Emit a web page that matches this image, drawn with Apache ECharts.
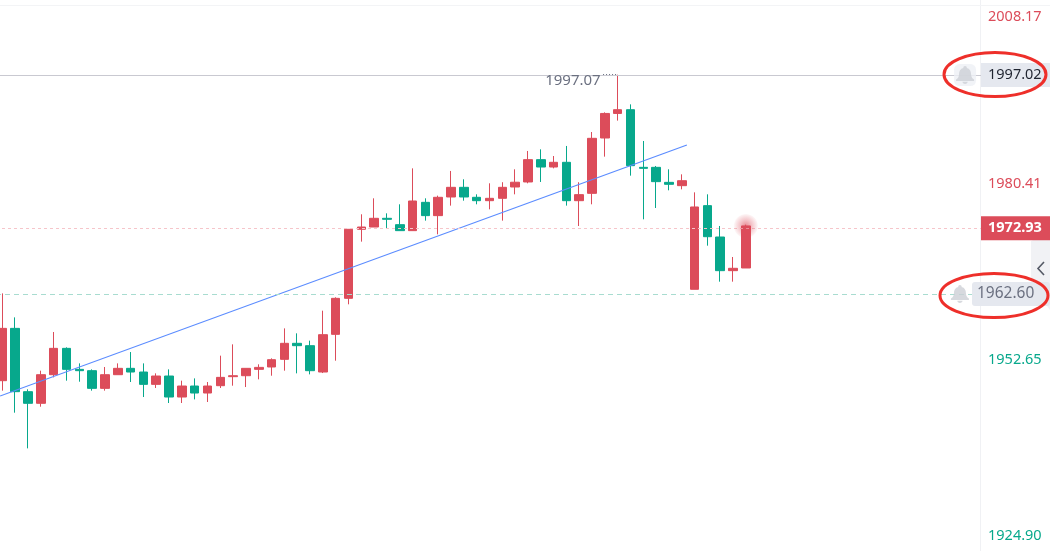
<!DOCTYPE html>
<html>
<head>
<meta charset="utf-8">
<script src="https://cdn.jsdelivr.net/npm/echarts@6/dist/echarts.min.js"></script>
<style>html,body{margin:0;padding:0;background:#fff}#c{width:1050px;height:551px}</style>
</head>
<body>
<div id="c"></div>
<script>
const opens  = [1948.98,1957.20,1947.25,1945.42,1949.92,1954.06,1950.76,1950.55,1947.77,1949.92,1950.92,1950.34,1948.40,1949.71,1946.41,1948.14,1947.04,1948.19,1949.61,1949.76,1950.76,1951.13,1952.33,1954.85,1954.48,1950.34,1956.26,1961.92,1972.77,1973.13,1974.50,1973.50,1972.56,1977.01,1974.92,1977.85,1979.37,1977.80,1977.27,1977.64,1979.42,1980.21,1983.72,1982.56,1983.30,1977.27,1978.42,1987.12,1990.98,1991.57,1982.51,1982.51,1980.15,1979.63,1963.34,1976.49,1971.56,1966.27,1966.69];
const closes = [1957.20,1947.25,1945.42,1949.92,1954.06,1950.76,1950.55,1947.77,1949.92,1950.92,1950.34,1948.40,1949.71,1946.41,1948.14,1947.04,1948.14,1949.50,1949.76,1950.92,1951.07,1952.28,1954.85,1954.48,1950.55,1956.21,1961.92,1972.77,1973.13,1974.50,1974.34,1972.56,1977.22,1974.92,1977.80,1979.37,1977.85,1977.27,1977.64,1979.37,1980.17,1983.72,1982.56,1983.30,1977.27,1978.22,1987.07,1990.98,1991.57,1982.77,1982.35,1980.26,1979.84,1980.41,1976.28,1971.61,1966.27,1966.64,1973.30];
const lows   = [1947.41,1943.95,1938.34,1944.89,1949.50,1948.98,1948.82,1947.41,1947.41,1949.92,1948.77,1946.41,1947.83,1945.47,1945.47,1946.04,1945.63,1947.83,1948.19,1947.98,1949.19,1949.76,1950.55,1950.13,1949.97,1950.18,1952.12,1960.98,1970.83,1973.13,1972.98,1972.56,1972.56,1974.13,1971.98,1976.49,1977.27,1976.70,1975.91,1974.13,1978.27,1980.00,1980.21,1982.35,1976.49,1973.29,1976.70,1984.19,1989.85,1981.20,1974.34,1976.12,1978.90,1979.05,1963.34,1970.20,1964.54,1964.54,1966.69];
const highs  = [1962.70,1958.93,1947.62,1950.55,1956.63,1954.22,1951.70,1950.76,1951.13,1951.70,1953.48,1951.70,1950.13,1950.76,1948.98,1949.34,1948.77,1952.91,1954.69,1950.92,1951.55,1952.49,1957.20,1956.42,1955.27,1959.98,1962.08,1972.77,1975.13,1977.64,1975.28,1976.70,1982.35,1977.64,1978.06,1981.94,1980.63,1978.27,1980.00,1980.17,1982.20,1985.08,1985.34,1984.29,1985.87,1980.17,1988.06,1991.15,1997.07,1992.41,1986.65,1982.72,1982.20,1981.41,1978.58,1978.27,1973.29,1968.42,1973.50];
const slotCount = 77;
const categories = Array.from({length: slotCount}, (_, i) => String(i + 1));
const axisTicks = [2008.17, 1980.41, 1952.65, 1924.90];
const axisMin = 1922.21, axisMax = 2008.81;
const trendLine = [[-0.18, 1946.57], [53.4, 1986.02]];
const alertHigh = 1997.02, alertLow = 1962.60, lastPrice = 1972.93, peak = 1997.07;
const lastHalo = [[58, 1973.3]];
const peakDots = [[46.86, 1997.1], [47.94, 1997.1]];
const bells = [[75.1, 1997.02], [74.7, 1962.60]];
const bellBox = [[75.1, 1997.02]];

const RED = '#dc4c5a', GREEN = '#07a88c';
const FONT = '"Noto Sans", sans-serif';
const bellPath = 'path://M50 4c-5 0-8 4-8 8v3C28 19 22 32 22 46c0 16-6 24-14 30v8h84v-8c-8-6-14-14-14-30 0-14-6-27-20-31v-3c0-4-3-8-8-8zM38 88c0 7 5 12 12 12s12-5 12-12z';

const chart = echarts.init(document.getElementById('c'));
const tickStyle = [
  {color: RED, padding: [26,0,0,0]},
  {color: RED, padding: [6,0,0,0]},
  {color: GREEN, padding: [6,0,0,0]},
  {color: GREEN, padding: [4,0,0,0]}
];
const rich = {};
tickStyle.forEach((s, i) => rich['t' + i] = Object.assign({fontSize: 14.5, fontFamily: FONT}, s));

chart.setOption({
  animation: false,
  backgroundColor: '#fff',
  grid: {left: -4, right: 67, top: 0, bottom: 0, containLabel: false, outerBoundsMode: 'none'},
  xAxis: [
    {type: 'category', data: categories, show: false},
    {type: 'value', min: -0.5, max: slotCount - 0.5, show: false}
  ],
  yAxis: {
    type: 'value', position: 'right', offset: -3, min: axisMin, max: axisMax, scale: true,
    splitLine: {show: false},
    axisLine: {show: true, onZero: false, lineStyle: {color: '#f0f1f4'}},
    axisTick: {show: false},
    axisLabel: {
      customValues: axisTicks, margin: 8, showMinLabel: true, showMaxLabel: true, hideOverlap: false,
      formatter: v => { const i = axisTicks.indexOf(v); return '{t' + i + '|' + v.toFixed(2) + '}'; },
      rich
    }
  },
  series: [
    {
      type: 'scatter', xAxisIndex: 1, data: bellBox, symbol: 'roundRect', symbolSize: 22, silent: true, z: 6,
      itemStyle: {color: '#eef0f5'}
    },
    {
      type: 'scatter', xAxisIndex: 1, data: bells, symbol: bellPath, symbolSize: 18, silent: true, z: 7,
      itemStyle: {color: '#cdd0d6'}
    },
    {
      type: 'candlestick', xAxisIndex: 0, barWidth: 9, z: 3,
      data: opens.map((o, i) => [o, closes[i], lows[i], highs[i]]),
      itemStyle: {color: RED, color0: GREEN, borderColor: RED, borderColor0: GREEN, borderWidth: 1},
      markLine: {
        silent: true, symbol: 'none', animation: false, z: 5,
        data: [
          {yAxis: alertHigh, lineStyle: {color: '#c9c9d1', type: 'solid', width: 1},
           label: {position: 'end', distance: 0, offset: [-2, 0], formatter: alertHigh.toFixed(2), width: 62, height: 22, lineHeight: 22,
                   padding: [1,0,1,7], backgroundColor: '#e5e8ef', color: '#1f2430', fontSize: 14.5, fontFamily: FONT}},
          {yAxis: alertLow, lineStyle: {color: '#a8dcd0', type: [5, 4], width: 1},
           label: {position: 'end', distance: 0, offset: [-11, 0], formatter: alertLow.toFixed(2), width: 73, height: 22, lineHeight: 22,
                   padding: [1,0,1,5], borderRadius: 3, backgroundColor: '#e5e8ef', color: '#6b7080', fontSize: 15.5, fontFamily: FONT}},
          {yAxis: lastPrice, lineStyle: {color: '#f6c5ca', type: [3, 3], width: 1},
           label: {position: 'end', distance: 0, offset: [-2, 0], formatter: lastPrice.toFixed(2), width: 62, height: 22, lineHeight: 22,
                   padding: [1,0,1,7], backgroundColor: RED, color: '#fff', fontSize: 14.5, fontWeight: 'bold', fontFamily: FONT}}
        ]
      },
      markPoint: {
        silent: true, symbol: 'circle', symbolSize: 0,
        data: [{coord: ['49', peak]}],
        label: {position: 'left', distance: 17, offset: [0, 6], formatter: peak.toFixed(2), color: '#6b7080', fontSize: 15, fontFamily: FONT}
      }
    },
    {
      type: 'line', xAxisIndex: 1, data: trendLine, showSymbol: false, silent: true, z: 4,
      lineStyle: {color: '#5b8cff', width: 1.2}
    },
    {
      type: 'line', xAxisIndex: 1, data: peakDots, showSymbol: false, silent: true, z: 4,
      lineStyle: {color: '#6b7080', width: 1, type: [1, 2]}
    },
    {
      type: 'scatter', xAxisIndex: 0, data: lastHalo, symbol: 'circle', symbolSize: 24, silent: true, z: 5,
      itemStyle: {color: {type: 'radial', x: 0.5, y: 0.5, r: 0.5, colorStops: [
        {offset: 0, color: 'rgba(220,76,90,0.8)'},
        {offset: 0.5, color: 'rgba(220,76,90,0.4)'},
        {offset: 1, color: 'rgba(220,76,90,0.05)'}
      ]}}
    }
  ],
  graphic: [
    {type: 'rect', z: 1, silent: true, shape: {x: 0, y: 5, width: 1050, height: 1}, style: {fill: '#f3f4f6'}},
    {type: 'polygon', z: 1, silent: true, shape: {points: [[1031, 241], [1050, 232], [1050, 310], [1031, 284]]}, style: {fill: '#f1f2f5'}},
    {type: 'polyline', z: 1, silent: true, shape: {points: [[1044, 262], [1038, 268.5], [1044, 275]]}, style: {stroke: '#555a66', lineWidth: 1.6, fill: null}},
    {type: 'ellipse', z: 100, silent: true, shape: {cx: 995, cy: 74.5, rx: 51, ry: 22}, style: {stroke: '#ee2f2a', lineWidth: 3, fill: null}},
    {type: 'ellipse', z: 100, silent: true, shape: {cx: 994, cy: 295.5, rx: 54, ry: 22}, style: {stroke: '#ee2f2a', lineWidth: 3, fill: null}}
  ]
});
</script>
</body>
</html>
